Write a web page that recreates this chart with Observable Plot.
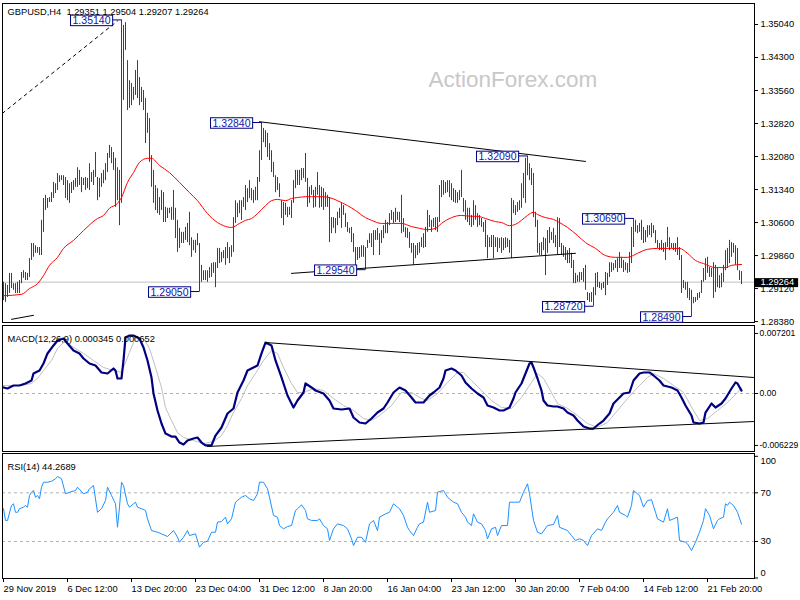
<!DOCTYPE html>
<html><head><meta charset="utf-8">
<script src="https://cdn.jsdelivr.net/npm/d3@7"></script>
<script src="https://cdn.jsdelivr.net/npm/@observablehq/plot@0.6"></script>
<style>
html,body{margin:0;padding:0;background:#fff;}
#chart{position:relative;width:800px;height:600px;overflow:hidden;background:#fff;}
#chart svg{position:absolute;left:0;overflow:visible;}
</style></head><body><div id="chart"></div>
<script>
// ---------------- DATA ----------------
const symbol = "GBPUSD,H4";
const lastOHLC = [1.29351, 1.29504, 1.29207, 1.29264];
const macdTitle = "MACD(12,26,9) 0.000345 0.000652";
const rsiTitle = "RSI(14) 44.2689";
const watermark = "ActionForex.com";

// H4 bars (index 0 = 29 Nov 2019), high / low
const barHigh = [
1.2926,1.2923,1.2919,1.2946,1.2946,1.2923,1.2923,1.2926,1.2930,1.2948,
1.2952,1.2948,1.2946,1.2979,1.3013,1.3013,1.3008,1.3004,1.3004,1.3065,
1.3114,1.3121,1.3114,1.3116,1.3127,1.3150,1.3147,1.3170,1.3165,1.3165,
1.3165,1.3161,1.3154,1.3147,1.3150,1.3154,1.3159,1.3183,1.3177,1.3161,
1.3159,1.3161,1.3159,1.3192,1.3172,1.3177,1.3217,1.3161,1.3159,1.3170,
1.3177,1.3192,1.3215,1.3233,1.3228,1.3217,1.3204,1.3183,1.3177,1.3514,
1.3502,1.3508,1.3423,1.3378,1.3372,1.3363,1.3401,1.3423,1.3385,1.3363,
1.3356,1.3338,1.3305,1.3293,1.3210,1.3177,1.3143,1.3136,1.3116,1.3132,
1.3127,1.3094,1.3092,1.3092,1.3094,1.3132,1.3092,1.3065,1.3047,1.3038,
1.3038,1.3049,1.3058,1.3083,1.3026,1.3020,1.3020,1.3035,1.3013,1.2964,
1.2952,1.2952,1.2952,1.2959,1.2968,1.2970,1.2970,1.3002,1.3002,1.2993,
1.2997,1.3004,1.3015,1.3004,1.3008,1.3071,1.3109,1.3103,1.3109,1.3109,
1.3116,1.3143,1.3136,1.3154,1.3136,1.3132,1.3139,1.3161,1.3221,1.3284,
1.3271,1.3266,1.3260,1.3237,1.3221,1.3195,1.3165,1.3161,1.3147,1.3109,
1.3105,1.3103,1.3094,1.3094,1.3109,1.3154,1.3177,1.3177,1.3177,1.3181,
1.3181,1.3215,1.3159,1.3139,1.3143,1.3132,1.3139,1.3172,1.3143,1.3139,
1.3136,1.3127,1.3121,1.3116,1.3071,1.3071,1.3069,1.3083,1.3092,1.3103,
1.3098,1.3080,1.3060,1.3047,1.3049,1.3035,1.3004,1.3004,1.3004,1.3008,
1.3008,1.3004,1.3020,1.3035,1.3035,1.3042,1.3042,1.3047,1.3035,1.3042,
1.3053,1.3065,1.3060,1.3080,1.3087,1.3083,1.3092,1.3083,1.3083,1.3121,
1.3069,1.3049,1.3047,1.3038,1.3013,1.3013,1.3008,1.3013,1.3015,1.3026,
1.3035,1.3049,1.3087,1.3076,1.3065,1.3069,1.3071,1.3071,1.3143,1.3154,
1.3154,1.3150,1.3154,1.3154,1.3147,1.3136,1.3132,1.3127,1.3132,1.3177,
1.3114,1.3109,1.3092,1.3092,1.3076,1.3109,1.3098,1.3080,1.3076,1.3069,
1.3060,1.3065,1.3031,1.3026,1.3031,1.3031,1.3026,1.3026,1.3024,1.3026,
1.3024,1.3026,1.3024,1.3020,1.3114,1.3109,1.3098,1.3105,1.3109,1.3147,
1.3170,1.3204,1.3209,1.3192,1.3181,1.3170,1.3083,1.3065,1.3013,1.3015,
1.3026,1.3024,1.3042,1.3049,1.3038,1.3047,1.3031,1.3071,1.3069,1.3013,
1.3008,1.3004,1.2997,1.3002,1.2991,1.2975,1.2946,1.2941,1.2948,1.2948,
1.2957,1.2964,1.2903,1.2901,1.2903,1.2914,1.2946,1.2948,1.2926,1.2923,
1.2926,1.2948,1.2946,1.2970,1.2970,1.2968,1.2975,1.2979,1.2993,1.2982,
1.2975,1.2970,1.2968,1.2993,1.3049,1.3069,1.3065,1.3053,1.3058,1.3065,
1.3049,1.3042,1.3053,1.3053,1.3058,1.3053,1.3042,1.3020,1.3013,1.3020,
1.3013,1.3015,1.3049,1.3026,1.3013,1.3013,1.3013,1.3026,1.3004,1.2986,
1.2930,1.2926,1.2926,1.2912,1.2908,1.2892,1.2892,1.2901,1.2903,1.2930,
1.2957,1.2979,1.2982,1.2959,1.2957,1.2970,1.2964,1.2957,1.2941,1.2946,
1.2964,1.2997,1.3002,1.3020,1.3015,1.3013,1.3008,1.3002,1.2952,1.2950];
const barLow = [
1.2885,1.2881,1.2892,1.2901,1.2912,1.2908,1.2901,1.2901,1.2901,1.2923,
1.2935,1.2930,1.2930,1.2937,1.2975,1.2982,1.2991,1.2991,1.2986,1.2986,
1.3038,1.3087,1.3092,1.3105,1.3105,1.3114,1.3125,1.3132,1.3150,1.3154,
1.3143,1.3114,1.3109,1.3103,1.3125,1.3132,1.3139,1.3139,1.3143,1.3127,
1.3143,1.3132,1.3136,1.3132,1.3150,1.3143,1.3161,1.3109,1.3116,1.3139,
1.3147,1.3154,1.3172,1.3204,1.3192,1.3177,1.3094,1.3109,1.3053,1.3103,
1.3334,1.3446,1.3311,1.3316,1.3322,1.3334,1.3345,1.3338,1.3322,1.3329,
1.3311,1.3237,1.3260,1.3195,1.3139,1.3103,1.3087,1.3080,1.3076,1.3087,
1.3060,1.3060,1.3069,1.3080,1.3065,1.3065,1.3024,1.2993,1.3002,1.3013,
1.3013,1.3020,1.3015,1.3008,1.2982,1.2997,1.2991,1.3008,1.2905,1.2926,
1.2930,1.2930,1.2926,1.2935,1.2937,1.2946,1.2914,1.2957,1.2968,1.2970,
1.2979,1.2964,1.2979,1.2968,1.2982,1.2993,1.3058,1.3071,1.3080,1.3065,
1.3094,1.3087,1.3105,1.3114,1.3109,1.3103,1.3109,1.3109,1.3150,1.3199,
1.3239,1.3228,1.3206,1.3199,1.3172,1.3161,1.3127,1.3132,1.3116,1.3069,
1.3053,1.3076,1.3071,1.3076,1.3069,1.3103,1.3136,1.3143,1.3143,1.3154,
1.3159,1.3150,1.3094,1.3103,1.3121,1.3092,1.3094,1.3121,1.3092,1.3094,
1.3087,1.3094,1.3094,1.3015,1.3035,1.3047,1.3035,1.3053,1.3069,1.3047,
1.3076,1.3049,1.3038,1.3035,1.3015,1.2993,1.2959,1.2975,1.2979,1.2982,
1.2982,1.2954,1.3002,1.3013,1.3004,1.2986,1.3020,1.3020,1.2986,1.3013,
1.3024,1.3035,1.3035,1.3053,1.3065,1.3058,1.3060,1.3065,1.3060,1.3035,
1.3038,1.3026,1.3024,1.3002,1.2991,1.2964,1.2979,1.2986,1.2991,1.3004,
1.3002,1.3004,1.3038,1.3049,1.3038,1.3049,1.3042,1.3038,1.3060,1.3116,
1.3121,1.3125,1.3127,1.3116,1.3109,1.3105,1.3103,1.3103,1.3109,1.3116,
1.3083,1.3065,1.3060,1.3053,1.3049,1.3053,1.3065,1.3049,1.3053,1.3049,
1.3038,1.3004,1.2979,1.3004,1.3004,1.2979,1.3004,1.2993,1.3002,1.2991,
1.2997,1.3002,1.3004,1.2991,1.2979,1.3080,1.3076,1.3083,1.3087,1.3092,
1.3114,1.3103,1.3165,1.3154,1.3143,1.3071,1.3049,1.2991,1.2986,1.2986,
1.2997,1.2941,1.2991,1.3013,1.3020,1.3013,1.3004,1.2986,1.3004,1.2986,
1.2982,1.2975,1.2968,1.2968,1.2957,1.2923,1.2923,1.2926,1.2926,1.2930,
1.2926,1.2908,1.2885,1.2881,1.2881,1.2872,1.2896,1.2914,1.2912,1.2908,
1.2912,1.2896,1.2919,1.2937,1.2948,1.2952,1.2957,1.2948,1.2957,1.2957,
1.2948,1.2952,1.2946,1.2948,1.2968,1.3004,1.3038,1.3035,1.3038,1.3020,
1.3013,1.3015,1.3026,1.3031,1.3026,1.3035,1.3013,1.3002,1.2997,1.2997,
1.2993,1.2975,1.3004,1.2997,1.3002,1.2997,1.2993,1.2986,1.2975,1.2901,
1.2912,1.2908,1.2890,1.2885,1.2849,1.2878,1.2881,1.2885,1.2890,1.2901,
1.2926,1.2930,1.2946,1.2937,1.2937,1.2890,1.2903,1.2914,1.2912,1.2914,
1.2926,1.2952,1.2957,1.2968,1.2982,1.2991,1.2964,1.2952,1.2930,1.2921];

// red moving average [bar index, price]
const maPoints = [[0,1.2896],[9,1.2899],[13,1.2912],[17,1.2923],[20,1.2941],[23,1.2964],[27,1.2982],[30,1.3002],[35,1.3020],[40,1.3042],[47,1.3069],[50,1.3076],[53,1.3092],[57,1.3103],[59,1.3116],[62,1.3150],[65,1.3172],[68,1.3195],[72,1.3204],[74,1.3204],[78,1.3188],[83,1.3172],[88,1.3150],[93,1.3127],[97,1.3109],[102,1.3080],[107,1.3060],[110,1.3053],[114,1.3049],[118,1.3058],[121,1.3065],[124,1.3069],[127,1.3080],[131,1.3098],[134,1.3109],[137,1.3112],[141,1.3109],[144,1.3114],[147,1.3116],[151,1.3118],[154,1.3118],[159,1.3118],[163,1.3116],[167,1.3109],[172,1.3098],[176,1.3087],[181,1.3071],[184,1.3065],[189,1.3058],[194,1.3058],[199,1.3058],[204,1.3051],[208,1.3047],[212,1.3044],[216,1.3047],[219,1.3058],[224,1.3071],[229,1.3076],[234,1.3074],[237,1.3074],[241,1.3069],[246,1.3062],[249,1.3060],[253,1.3053],[256,1.3056],[259,1.3065],[262,1.3076],[265,1.3083],[267,1.3078],[271,1.3071],[275,1.3067],[278,1.3060],[282,1.3049],[287,1.3031],[291,1.3015],[296,1.3002],[301,1.2986],[306,1.2982],[312,1.2982],[317,1.2991],[322,1.3000],[327,1.3002],[334,1.3002],[338,1.3002],[342,1.2991],[346,1.2975],[350,1.2968],[356,1.2959],[361,1.2959],[364,1.2964],[369,1.2966]];

// high/low callouts
const labelIdx = [59, 129, 98, 181, 262, 315, 295, 344];
const labelPrice = [1.3514, 1.3284, 1.2905, 1.2954, 1.3209, 1.3069, 1.2872, 1.2849];

// drawn trendlines [bar index, price]
const trendUpper = [[128, 1.3286], [291, 1.3197]];
const trendLower = [[144, 1.2946], [286, 1.2991]];
const trendDashed = [[-0.5, 1.3305], [57, 1.3512]];
const trendShort = [[4, 1.2843], [15, 1.2852]];

const priceTicks = [1.35040,1.34300,1.33560,1.32820,1.32080,1.31340,1.30600,1.29860,1.29120,1.28380];

// MACD main and signal [bar index, value]
const macdMain = [[0,0.00072],[2,0.00060],[5,0.00096],[8,0.00096],[11,0.00120],[14,0.00156],[15,0.00240],[18,0.00276],[20,0.00360],[22,0.00480],[25,0.00576],[27,0.00636],[30,0.00659],[32,0.00600],[35,0.00516],[38,0.00480],[40,0.00420],[43,0.00360],[46,0.00336],[49,0.00252],[52,0.00240],[55,0.00300],[56,0.00276],[57,0.00180],[59,0.00180],[60,0.00396],[61,0.00671],[63,0.00695],[65,0.00695],[68,0.00659],[70,0.00552],[72,0.00396],[74,0.00192],[75,0],[77,-0.00204],[79,-0.00360],[81,-0.00480],[84,-0.00516],[86,-0.00516],[88,-0.00588],[90,-0.00612],[92,-0.00564],[95,-0.00540],[97,-0.00528],[99,-0.00588],[101,-0.00623],[104,-0.00623],[106,-0.00504],[109,-0.00408],[112,-0.00240],[115,-0.00180],[117,0.00012],[120,0.00156],[122,0.00276],[125,0.00312],[127,0.00336],[129,0.00480],[131,0.00611],[134,0.00576],[136,0.00396],[139,0.00192],[142,-0.00024],[145,-0.00168],[147,-0.00084],[150,0.00012],[151,0.00120],[154,0.00072],[156,0.00036],[160,0],[163,-0.00084],[165,-0.00180],[169,-0.00192],[173,-0.00180],[175,-0.00288],[178,-0.00348],[181,-0.00360],[184,-0.00300],[187,-0.00228],[190,-0.00180],[192,-0.00108],[195,0.00012],[198,0.00072],[201,0.00036],[204,-0.00048],[206,-0.00108],[210,-0.00108],[213,-0.00024],[215,0.00012],[218,0.00072],[220,0.00180],[221,0.00276],[224,0.00300],[226,0.00276],[229,0.00216],[231,0.00132],[234,0.00060],[237,0],[240,-0.00048],[242,-0.00144],[245,-0.00168],[248,-0.00204],[250,-0.00204],[253,-0.00168],[255,-0.00060],[256,0.00012],[259,0.00120],[261,0.00240],[263,0.00360],[264,0.00372],[265,0.00312],[267,0.00180],[269,0.00036],[270,-0.00084],[272,-0.00144],[275,-0.00156],[277,-0.00156],[280,-0.00180],[282,-0.00228],[285,-0.00264],[287,-0.00324],[290,-0.00396],[293,-0.00420],[295,-0.00420],[298,-0.00360],[300,-0.00324],[303,-0.00240],[305,-0.00120],[308,-0.00048],[310,0],[313,0.00012],[315,0.00156],[318,0.00240],[320,0.00252],[323,0.00252],[325,0.00216],[328,0.00156],[330,0.00096],[334,0.00072],[337,0.00036],[339,-0.00048],[341,-0.00144],[344,-0.00264],[345,-0.00348],[348,-0.00360],[350,-0.00348],[351,-0.00228],[354,-0.00120],[356,-0.00168],[359,-0.00120],[361,-0.00060],[364,0.00060],[366,0.00132],[367,0.00120],[369,0.000345]];
const macdSignal = [[0,0.00096],[9,0.00096],[14,0.00120],[17,0.00180],[20,0.00276],[24,0.00396],[27,0.00540],[30,0.00611],[32,0.00611],[35,0.00552],[40,0.00480],[45,0.00396],[50,0.00312],[55,0.00276],[59,0.00252],[63,0.00492],[66,0.00671],[70,0.00659],[73,0.00540],[76,0.00312],[79,0.00072],[81,-0.00168],[84,-0.00324],[87,-0.00468],[90,-0.00528],[95,-0.00564],[100,-0.00600],[105,-0.00576],[109,-0.00504],[112,-0.00384],[115,-0.00228],[119,-0.00060],[122,0.00096],[126,0.00240],[130,0.00396],[134,0.00516],[137,0.00480],[140,0.00312],[144,0.00120],[147,0.00012],[150,0.00012],[155,0.00060],[160,0.00036],[165,-0.00060],[170,-0.00144],[175,-0.00204],[180,-0.00300],[184,-0.00324],[188,-0.00264],[194,-0.00144],[199,0.00012],[204,0.00012],[209,-0.00060],[212,-0.00084],[217,0],[222,0.00132],[227,0.00252],[230,0.00252],[234,0.00156],[239,0.00036],[244,-0.00084],[249,-0.00168],[254,-0.00180],[259,-0.00048],[264,0.00132],[267,0.00240],[270,0.00180],[274,0.00012],[277,-0.00120],[282,-0.00180],[287,-0.00264],[292,-0.00360],[297,-0.00408],[302,-0.00348],[307,-0.00204],[312,-0.00060],[317,0.00072],[322,0.00192],[325,0.00240],[330,0.00180],[335,0.00096],[340,0.00012],[345,-0.00204],[348,-0.00324],[352,-0.00300],[357,-0.00204],[362,-0.00108],[367,0.00012],[369,0.000652]];
const macdUpper = [[131, 0.00611], [375, 0.00192]];
const macdLower = [[102, -0.00635], [375, -0.00336]];
const macdTicks = [0.007201, 0, -0.006229];

// RSI(14) [bar index, value]
const rsiPoints = [[0,56.9],[1,47.3],[2,47.3],[4,59.6],[5,61],[6,54],[7,54],[8,56.9],[10,58.2],[11,59.6],[12,58.2],[13,67.8],[14,70.5],[15,71.9],[16,66.4],[17,67.8],[18,65.1],[19,74.6],[20,78.7],[22,78.7],[24,79.5],[26,81.5],[27,83.4],[29,81.5],[31,69.2],[33,70.5],[36,71.9],[37,74.6],[40,69.2],[42,70.5],[43,73.3],[45,76],[47,54],[49,56.9],[51,63.7],[52,74.6],[54,67.8],[56,61],[57,41.7],[58,58.2],[59,78.7],[60,76],[62,61],[63,58.2],[66,62.3],[67,58.2],[69,56.9],[71,55.5],[72,48.6],[74,39],[77,37.6],[79,36.3],[82,34.1],[85,39],[87,33.5],[88,29.4],[90,33.5],[92,39],[93,34.9],[96,36.3],[98,25.3],[100,29.4],[102,30.2],[104,37.6],[106,37.6],[107,45.9],[109,46.4],[111,50],[112,44.5],[114,48.6],[116,62.3],[117,63.7],[119,66.4],[121,67.8],[123,65.1],[125,63.7],[127,69.2],[128,78.7],[130,78.7],[132,73.3],[133,66.4],[135,51.4],[137,50],[138,43.1],[140,40.4],[142,42.3],[144,43.1],[146,55.5],[147,56.9],[149,60.1],[151,55.5],[152,48.6],[154,47.3],[157,47.3],[158,48.6],[160,43.1],[162,40.4],[163,30.8],[165,40.4],[167,44.5],[170,43.1],[172,40.4],[174,32.2],[175,26.7],[177,33.5],[179,33.5],[181,29.4],[183,44.5],[185,47.3],[187,39],[188,50],[191,52.7],[193,54],[195,61],[197,58.2],[198,56.9],[200,51.4],[202,41.7],[203,39],[205,34.9],[207,41.7],[208,44.5],[210,45.9],[212,62.3],[213,54],[216,55.5],[217,70.5],[220,71.9],[222,66.4],[225,62.3],[227,61],[229,54],[231,50],[232,45.9],[234,43.1],[235,52.7],[237,45.9],[239,44.5],[241,39],[242,32.2],[244,40.4],[246,41.7],[247,34.9],[249,43.1],[252,43.1],[253,62.3],[256,62.3],[258,62.3],[260,70.5],[262,77.4],[263,69.2],[265,47.3],[267,37.6],[269,36.3],[272,43.1],[275,44],[277,51.4],[278,41.7],[282,39],[284,34.9],[286,30.8],[288,32.2],[290,30.8],[292,26.7],[294,34.9],[297,40.4],[299,39],[301,45.9],[302,48.6],[305,54],[307,59.6],[308,54],[311,51.4],[312,50],[314,59.6],[315,71.9],[317,69.2],[318,67.8],[320,58.2],[322,63.7],[324,64.3],[326,54],[327,48.6],[330,45.9],[332,56.9],[333,47.3],[335,48.6],[337,50],[338,30.8],[341,29.4],[342,28.1],[344,22.6],[346,29.4],[348,37.6],[350,47.3],[351,56.9],[353,51.4],[355,40.4],[357,47.3],[358,48.6],[360,50],[361,61],[362,59.6],[363,62.3],[365,59.6],[367,54],[369,44.27]];
const rsiLevels = [70, 30];

const xTickIdx = [0,32,64,96,128,160,192,224,256,288,320,352];
const xTickLabels = ["29 Nov 2019","6 Dec 12:00","13 Dec 20:00","23 Dec 04:00","31 Dec 12:00","8 Jan 20:00","16 Jan 04:00","23 Jan 12:00","30 Jan 20:00","7 Feb 04:00","14 Feb 12:00","21 Feb 20:00"];

// ---------------- CHART ----------------
const FONT = "'Liberation Sans', Arial, Helvetica, sans-serif";
const xDomain = [-0.5, 375.5];
const LBL_DX = 11;
const LBL_COLOR = "#1414a8";
const BOX_COLOR = "#000080";
const BAR_COLOR = "#1b4d6b";
const baseStyle = {fontFamily: FONT, fontSize: "9.3px", background: "transparent", color: "#000", overflow: "visible"};
const pts = arr => arr.map(([i, v]) => ({i, v}));
const bars = barHigh.map((h, i) => ({i, high: h, low: barLow[i]}));
const labels = labelIdx.map((i, k) => ({i, p: labelPrice[k]}));
const lastClose = lastOHLC[3];
const title = symbol + "  " + lastOHLC.map(d => d.toFixed(5)).join(" ");

const container = document.getElementById("chart");
function place(svg, top) { svg.style.top = top + "px"; container.appendChild(svg); return svg; }

const main = place(Plot.plot({
  width: 800, height: 324, marginLeft: 2, marginRight: 46, marginTop: 3, marginBottom: 2,
  x: {domain: xDomain, axis: null},
  y: {domain: [1.28359, 1.35511]},
  style: baseStyle,
  marks: [
    Plot.text([watermark], {text: d => d, frameAnchor: "top-left", dx: 426, dy: 68, textAnchor: "start", fill: "#c8c8c8", fontSize: 22.5}),
    Plot.ruleY([lastClose], {stroke: "#c0c0c0"}),
    Plot.ruleX(bars, {x: "i", y1: "low", y2: "high", stroke: BAR_COLOR, strokeWidth: 1}),
    Plot.line(pts(maPoints), {x: "i", y: "v", stroke: "#ff0000", strokeWidth: 1, curve: "monotone-x"}),
    Plot.line(pts(trendUpper), {x: "i", y: "v", stroke: "#000", strokeWidth: 1}),
    Plot.line(pts(trendLower), {x: "i", y: "v", stroke: "#000", strokeWidth: 1}),
    Plot.line(pts(trendShort), {x: "i", y: "v", stroke: "#000", strokeWidth: 1}),
    Plot.line(pts(trendDashed), {x: "i", y: "v", stroke: "#000", strokeWidth: 1, strokeDasharray: "3,4"}),
    Plot.axisY({anchor: "right", ticks: priceTicks, tickFormat: d => d.toFixed(5), tickSize: 3, tickPadding: 3, label: null}),
    Plot.frame({stroke: "#000"}),
    Plot.text([title], {text: d => d, frameAnchor: "top-left", dx: 5, dy: 5, textAnchor: "start", fill: "#000"}),
    Plot.text(labels, {x: "i", y: "p", text: d => d.p.toFixed(5), textAnchor: "end", dx: -LBL_DX, dy: 0.5, fill: LBL_COLOR, fontSize: 10.5, className: "hl-labels"}),
    Plot.text([lastClose], {y: d => d, text: d => d.toFixed(5), frameAnchor: "right", dx: 6, textAnchor: "start", fill: "white", className: "last-price"})
  ]
}), 0);

const macd = place(Plot.plot({
  width: 800, height: 128, marginLeft: 2, marginRight: 46, marginTop: 1, marginBottom: 1,
  x: {domain: xDomain, axis: null},
  y: {domain: [-0.006954, 0.008153]},
  style: baseStyle,
  marks: [
    Plot.ruleY([0], {stroke: "#b4b4b4", strokeDasharray: "3,3"}),
    Plot.line(pts(macdSignal), {x: "i", y: "v", stroke: "#c0c0c0", strokeWidth: 1}),
    Plot.line(pts(macdMain), {x: "i", y: "v", stroke: "#000080", strokeWidth: 2.2}),
    Plot.line(pts(macdUpper), {x: "i", y: "v", stroke: "#000", strokeWidth: 1}),
    Plot.line(pts(macdLower), {x: "i", y: "v", stroke: "#000", strokeWidth: 1}),
    Plot.axisY({anchor: "right", ticks: macdTicks, tickFormat: d => d === 0 ? "0.00" : d.toFixed(6), tickSize: 3, tickPadding: 2, fontSize: 8.6, label: null}),
    Plot.frame({stroke: "#000"}),
    Plot.text([macdTitle], {text: d => d, frameAnchor: "top-left", dx: 5, dy: 9.5, textAnchor: "start", fill: "#000"})
  ]
}), 324);

const rsi = place(Plot.plot({
  width: 800, height: 148, marginLeft: 2, marginRight: 46, marginTop: 1, marginBottom: 22,
  x: {domain: xDomain},
  y: {domain: [-0.4, 102.3]},
  style: baseStyle,
  marks: [
    Plot.ruleY(rsiLevels, {stroke: "#b4b4b4", strokeDasharray: "3,3"}),
    Plot.line(pts(rsiPoints), {x: "i", y: "v", stroke: "#1e90ff", strokeWidth: 1}),
    Plot.axisY({anchor: "right", ticks: [100, 70, 30, 0], tickFormat: d => rsiLevels.includes(d) ? String(d) : "", tickSize: 3, tickPadding: 3, label: null}),
    Plot.text([100], {y: d => d, text: d => String(d), frameAnchor: "right", dx: 6, dy: 5, textAnchor: "start", fill: "#000"}),
    Plot.text([0], {y: d => d, text: d => String(d), frameAnchor: "right", dx: 6, dy: -4.5, textAnchor: "start", fill: "#000"}),
    Plot.axisX({anchor: "bottom", ticks: xTickIdx, tickFormat: d => xTickLabels[xTickIdx.indexOf(d)], tickSize: 4, tickPadding: 3, textAnchor: "start", label: null}),
    Plot.frame({stroke: "#000"}),
    Plot.text([rsiTitle], {text: d => d, frameAnchor: "top-left", dx: 5, dy: 9.5, textAnchor: "start", fill: "#000"})
  ]
}), 452);

// ---- boxes around callout texts (sized from the rendered text) ----
const NS = "http://www.w3.org/2000/svg";
function findTexts(svg, cls, fill, strings) {
  let t = [...svg.querySelectorAll(`.${cls} text`)];
  if (!t.length) t = [...svg.querySelectorAll("g")].filter(g => g.getAttribute("fill") === fill)
      .flatMap(g => [...g.querySelectorAll("text")]).filter(x => strings.includes(x.textContent));
  return t;
}
function box(t, {left, right, fill, stroke, connectTo, shrink = 1}) {
  const b = t.getBBox();
  const tr = t.getAttribute("transform");
  const r = document.createElementNS(NS, "rect");
  r.setAttribute("x", b.x - left);
  r.setAttribute("y", b.y + shrink / 2 + 0.5);
  r.setAttribute("width", b.width + left + right);
  r.setAttribute("height", b.height - shrink);
  r.setAttribute("fill", fill);
  r.setAttribute("stroke", stroke || "none");
  if (tr) r.setAttribute("transform", tr);
  t.parentNode.insertBefore(r, t);
  if (connectTo != null) {
    const l = document.createElementNS(NS, "line");
    const y0 = b.y + b.height / 2;
    l.setAttribute("x1", b.x + b.width + right); l.setAttribute("x2", connectTo);
    l.setAttribute("y1", y0); l.setAttribute("y2", y0);
    l.setAttribute("stroke", stroke);
    if (tr) l.setAttribute("transform", tr);
    t.parentNode.insertBefore(l, t);
  }
}
findTexts(main, "hl-labels", LBL_COLOR, labelPrice.map(p => p.toFixed(5)))
  .forEach(t => box(t, {left: 2, right: 2, fill: "#fff", stroke: BOX_COLOR, connectTo: LBL_DX, shrink: 1.5}));
findTexts(main, "last-price", "white", [lastClose.toFixed(5)])
  .forEach(t => box(t, {left: 6, right: 4, fill: "#000", shrink: 1}));
</script></body></html>
